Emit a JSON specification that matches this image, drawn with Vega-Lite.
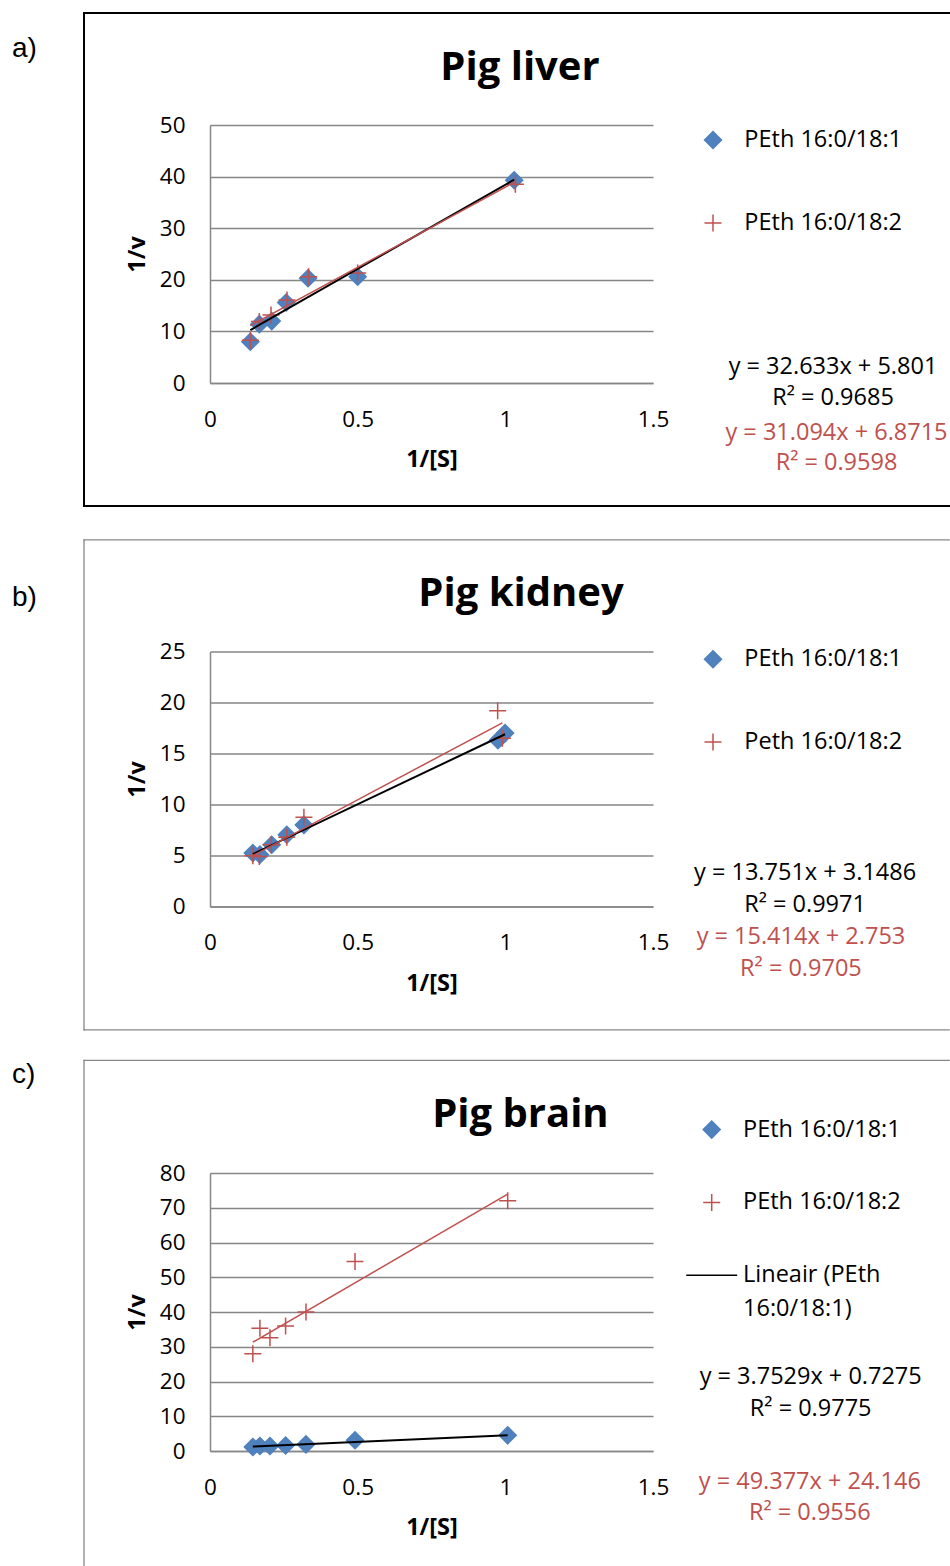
{
  "$schema": "https://vega.github.io/schema/vega-lite/v6.json",
  "padding": {"left": 12, "top": 11, "right": 0, "bottom": 0},
  "background": "white",
  "columns": 1,
  "align": "none",
  "spacing": 30.5,
  "resolve": {
    "scale": {"color": "independent", "stroke": "independent", "shape": "independent"},
    "legend": {"color": "independent", "stroke": "independent", "shape": "independent"}
  },
  "config": {
    "view": {"stroke": null},
    "font": "Open Sans",
    "style": {"guide-label": {"lineHeight": 33.7}},
    "axis": {
      "labelFont": "Open Sans", "labelFontSize": 22.5, "labelColor": "#000000",
      "titleFont": "Open Sans", "titleFontSize": 23.5, "titleFontWeight": "bold", "titleColor": "#000000",
      "ticks": false, "tickSize": 0, "labelPadding": 25,
      "domainColor": "#868686", "domainWidth": 1.5,
      "gridColor": "#868686", "gridWidth": 1.5,
      "labelFlush": false, "labelOverlap": false
    },
    "axisX": {"grid": false, "titlePadding": 17},
    "axisY": {"grid": true, "titlePadding": 10},
    "legend": {
      "labelFont": "Open Sans", "labelFontSize": 23.5, "labelColor": "#000000",
      "symbolSize": 289, "symbolStrokeWidth": 1.5, "labelOffset": 19.6, "labelLimit": 400,
      "padding": 0
    }
  },
  "concat": [
    {
      "width": 443, "height": 258,
      "encoding": {
        "x": {"field": "x", "type": "quantitative", "scale": {"domain": [0, 1.5], "nice": false, "zero": false},
              "axis": {"title": "1/[S]", "values": [0, 0.5, 1, 1.5], "format": "~g"}},
        "y": {"field": "y", "type": "quantitative", "scale": {"domain": [0, 50], "nice": false, "zero": false},
              "axis": {"title": "1/v", "values": [0, 10, 20, 30, 40, 50], "format": "d"}}
      },
      "layer": [
        {
          "data": {"values": [
            {"x": -0.4266, "x2": 2.5024, "y": 71.71, "y2": 71.71},
            {"x": -0.4266, "x2": -0.4266, "y": 71.71, "y2": -23.84},
            {"x": -0.4266, "x2": 2.5024, "y": -23.84, "y2": -23.84}
          ]},
          "mark": {"type": "rule", "color": "#000000", "strokeWidth": 2, "strokeCap": "square"},
          "encoding": {"x2": {"field": "x2"}, "y2": {"field": "y2"}}
        },
        {
          "data": {"values": [
            {"x": 0.1366, "y": 8.0, "series": "PEth 16:0/18:1"},
            {"x": 0.167, "y": 11.4, "series": "PEth 16:0/18:1"},
            {"x": 0.209, "y": 12.0, "series": "PEth 16:0/18:1"},
            {"x": 0.258, "y": 15.6, "series": "PEth 16:0/18:1"},
            {"x": 0.332, "y": 20.3, "series": "PEth 16:0/18:1"},
            {"x": 0.5, "y": 20.6, "series": "PEth 16:0/18:1"},
            {"x": 1.03, "y": 39.3, "series": "PEth 16:0/18:1"},
            {"x": 0.1366, "y": 8.3, "series": "PEth 16:0/18:2"},
            {"x": 0.167, "y": 11.9, "series": "PEth 16:0/18:2"},
            {"x": 0.2065, "y": 13.2, "series": "PEth 16:0/18:2"},
            {"x": 0.2607, "y": 16.1, "series": "PEth 16:0/18:2"},
            {"x": 0.334, "y": 20.6, "series": "PEth 16:0/18:2"},
            {"x": 0.5, "y": 21.3, "series": "PEth 16:0/18:2"},
            {"x": 1.034, "y": 38.5, "series": "PEth 16:0/18:2"}
          ]},
          "mark": {"type": "point", "filled": true, "opacity": 1, "strokeWidth": 1.5, "size": 289},
          "encoding": {
            "color": {"field": "series", "type": "nominal",
                      "scale": {"domain": ["PEth 16:0/18:1", "PEth 16:0/18:2"], "range": ["#4F81BD", "#C0504D"]},
                      "legend": {"title": null, "orient": "none", "legendX": 491.25, "legendY": 3.25, "rowPadding": 58.1}},
            "stroke": {"field": "series", "type": "nominal",
                      "scale": {"domain": ["PEth 16:0/18:1", "PEth 16:0/18:2"], "range": ["#4F81BD", "#C0504D"]},
                      "legend": {"title": null, "orient": "none", "legendX": 491.25, "legendY": 3.25, "rowPadding": 58.1}},
            "shape": {"field": "series", "type": "nominal",
                      "scale": {"domain": ["PEth 16:0/18:1", "PEth 16:0/18:2"], "range": ["diamond", "M-1,0L1,0M0,-1L0,1"]},
                      "legend": {"title": null, "orient": "none", "legendX": 491.25, "legendY": 3.25, "rowPadding": 58.1}}
          }
        },
        {
          "data": {"values": [{"x": 0.1366, "y": 10.26}, {"x": 1.03, "y": 39.41}]},
          "mark": {"type": "line", "color": "#000000", "strokeWidth": 2},
          "encoding": {}
        },
        {
          "data": {"values": [{"x": 0.1366, "y": 11.12}, {"x": 1.034, "y": 39.02}]},
          "mark": {"type": "line", "color": "#C0504D", "strokeWidth": 1.5},
          "encoding": {}
        },
        {
          "data": {"values": [
            {"x": 2.1095, "y": 3.16, "t": "y = 32.633x + 5.801"},
            {"x": 2.1095, "y": -2.97, "t": "R² = 0.9685"}
          ]},
          "mark": {"type": "text", "font": "Open Sans", "fontSize": 23.5, "align": "center", "baseline": "middle", "color": "#000000"},
          "encoding": {"text": {"field": "t"}}
        },
        {
          "data": {"values": [
            {"x": 2.1214, "y": -9.75, "t": "y = 31.094x + 6.8715"},
            {"x": 2.1214, "y": -15.56, "t": "R² = 0.9598"}
          ]},
          "mark": {"type": "text", "font": "Open Sans", "fontSize": 23.5, "align": "center", "baseline": "middle", "color": "#C0504D"},
          "encoding": {"text": {"field": "t"}}
        },
        {
          "data": {"values": [{"x": 1.0497, "y": 58.72, "t": "Pig liver"}]},
          "mark": {"type": "text", "font": "Open Sans", "fontSize": 40, "fontWeight": "bold", "align": "center", "baseline": "alphabetic", "color": "#000000"},
          "encoding": {"text": {"field": "t"}}
        },
        {
          "data": {"values": [{"x": -0.6704, "y": 64.81, "t": "a)"}]},
          "mark": {"type": "text", "font": "Liberation Sans", "fontSize": 28, "align": "left", "baseline": "middle", "color": "#000000"},
          "encoding": {"text": {"field": "t"}}
        }
      ]
    },
    {
      "columns": 1,
      "align": "none",
      "spacing": 27.5,
      "resolve": {
        "scale": {"color": "independent", "stroke": "independent", "shape": "independent"},
        "legend": {"color": "independent", "stroke": "independent", "shape": "independent"}
      },
      "concat": [
        {
          "width": 443, "height": 255,
          "encoding": {
            "x": {"field": "x", "type": "quantitative", "scale": {"domain": [0, 1.5], "nice": false, "zero": false},
                  "axis": {"title": "1/[S]", "values": [0, 0.5, 1, 1.5], "format": "~g"}},
            "y": {"field": "y", "type": "quantitative", "scale": {"domain": [0, 25], "nice": false, "zero": false},
                  "axis": {"title": "1/v", "values": [0, 5, 10, 15, 20, 25], "format": "d"}}
          },
          "layer": [
            {
              "data": {"values": [
                {"x": -0.4266, "x2": 2.5024, "y": 35.95, "y2": 35.95},
                {"x": -0.4266, "x2": -0.4266, "y": 35.95, "y2": -12.09},
                {"x": -0.4266, "x2": 2.5024, "y": -12.09, "y2": -12.09}
              ]},
              "mark": {"type": "rule", "color": "#878787", "strokeWidth": 1.3, "strokeCap": "square"},
              "encoding": {"x2": {"field": "x2"}, "y2": {"field": "y2"}}
            },
            {
              "data": {"values": [
                {"x": 0.145, "y": 5.24, "series": "PEth 16:0/18:1"},
                {"x": 0.169, "y": 5.08, "series": "PEth 16:0/18:1"},
                {"x": 0.209, "y": 6.05, "series": "PEth 16:0/18:1"},
                {"x": 0.26, "y": 7.03, "series": "PEth 16:0/18:1"},
                {"x": 0.318, "y": 8.0, "series": "PEth 16:0/18:1"},
                {"x": 0.975, "y": 16.3, "series": "PEth 16:0/18:1"},
                {"x": 0.999, "y": 17.0, "series": "PEth 16:0/18:1"},
                {"x": 0.145, "y": 4.98, "series": "Peth 16:0/18:2"},
                {"x": 0.167, "y": 4.9, "series": "Peth 16:0/18:2"},
                {"x": 0.207, "y": 6.05, "series": "Peth 16:0/18:2"},
                {"x": 0.26, "y": 6.8, "series": "Peth 16:0/18:2"},
                {"x": 0.318, "y": 8.76, "series": "Peth 16:0/18:2"},
                {"x": 0.974, "y": 19.2, "series": "Peth 16:0/18:2"},
                {"x": 0.99, "y": 16.5, "series": "Peth 16:0/18:2"}
              ]},
              "mark": {"type": "point", "filled": true, "opacity": 1, "strokeWidth": 1.5, "size": 289},
              "encoding": {
                "color": {"field": "series", "type": "nominal",
                          "scale": {"domain": ["PEth 16:0/18:1", "Peth 16:0/18:2"], "range": ["#4F81BD", "#C0504D"]},
                          "legend": {"title": null, "orient": "none", "legendX": 491.25, "legendY": -3.95, "rowPadding": 57.8}},
                "stroke": {"field": "series", "type": "nominal",
                          "scale": {"domain": ["PEth 16:0/18:1", "Peth 16:0/18:2"], "range": ["#4F81BD", "#C0504D"]},
                          "legend": {"title": null, "orient": "none", "legendX": 491.25, "legendY": -3.95, "rowPadding": 57.8}},
                "shape": {"field": "series", "type": "nominal",
                          "scale": {"domain": ["PEth 16:0/18:1", "Peth 16:0/18:2"], "range": ["diamond", "M-1,0L1,0M0,-1L0,1"]},
                          "legend": {"title": null, "orient": "none", "legendX": 491.25, "legendY": -3.95, "rowPadding": 57.8}}
              }
            },
            {
              "data": {"values": [{"x": 0.145, "y": 5.14}, {"x": 0.999, "y": 16.89}]},
              "mark": {"type": "line", "color": "#000000", "strokeWidth": 2},
              "encoding": {}
            },
            {
              "data": {"values": [{"x": 0.145, "y": 4.99}, {"x": 0.99, "y": 18.01}]},
              "mark": {"type": "line", "color": "#C0504D", "strokeWidth": 1.5},
              "encoding": {}
            },
            {
              "data": {"values": [
                {"x": 2.015, "y": 3.25, "t": "y = 13.751x + 3.1486"},
                {"x": 2.015, "y": 0.11, "t": "R² = 0.9971"}
              ]},
              "mark": {"type": "text", "font": "Open Sans", "fontSize": 23.5, "align": "center", "baseline": "middle", "color": "#000000"},
              "encoding": {"text": {"field": "t"}}
            },
            {
              "data": {"values": [
                {"x": 2.001, "y": -3.02, "t": "y = 15.414x + 2.753"},
                {"x": 2.001, "y": -6.16, "t": "R² = 0.9705"}
              ]},
              "mark": {"type": "text", "font": "Open Sans", "fontSize": 23.5, "align": "center", "baseline": "middle", "color": "#C0504D"},
              "encoding": {"text": {"field": "t"}}
            },
            {
              "data": {"values": [{"x": 1.053, "y": 29.48, "t": "Pig kidney"}]},
              "mark": {"type": "text", "font": "Open Sans", "fontSize": 40, "fontWeight": "bold", "align": "center", "baseline": "alphabetic", "color": "#000000"},
              "encoding": {"text": {"field": "t"}}
            },
            {
              "data": {"values": [{"x": -0.6704, "y": 30.21, "t": "b)"}]},
              "mark": {"type": "text", "font": "Liberation Sans", "fontSize": 28, "align": "left", "baseline": "middle", "color": "#000000"},
              "encoding": {"text": {"field": "t"}}
            }
          ]
        },
        {
          "width": 443, "height": 278,
          "encoding": {
            "x": {"field": "x", "type": "quantitative", "scale": {"domain": [0, 1.5], "nice": false, "zero": false},
                  "axis": {"title": "1/[S]", "values": [0, 0.5, 1, 1.5], "format": "~g"}},
            "y": {"field": "y", "type": "quantitative", "scale": {"domain": [0, 80], "nice": false, "zero": false},
                  "axis": {"title": "1/v", "values": [0, 10, 20, 30, 40, 50, 60, 70, 80], "format": "d"}}
          },
          "layer": [
            {
              "data": {"values": [
                {"x": -0.4266, "x2": 2.5024, "y": 112.43, "y2": 112.43},
                {"x": -0.4266, "x2": -0.4266, "y": 112.43, "y2": -32.89}
              ]},
              "mark": {"type": "rule", "color": "#878787", "strokeWidth": 1.3, "strokeCap": "square"},
              "encoding": {"x2": {"field": "x2"}, "y2": {"field": "y2"}}
            },
            {
              "data": {"values": [
                {"x": 0.145, "y": 1.15, "series": "PEth 16:0/18:1"},
                {"x": 0.169, "y": 1.44, "series": "PEth 16:0/18:1"},
                {"x": 0.203, "y": 1.44, "series": "PEth 16:0/18:1"},
                {"x": 0.256, "y": 1.6, "series": "PEth 16:0/18:1"},
                {"x": 0.325, "y": 1.9, "series": "PEth 16:0/18:1"},
                {"x": 0.491, "y": 3.1, "series": "PEth 16:0/18:1"},
                {"x": 1.008, "y": 4.5, "series": "PEth 16:0/18:1"},
                {"x": 0.145, "y": 28.0, "series": "PEth 16:0/18:2"},
                {"x": 0.169, "y": 35.3, "series": "PEth 16:0/18:2"},
                {"x": 0.203, "y": 32.6, "series": "PEth 16:0/18:2"},
                {"x": 0.256, "y": 36.0, "series": "PEth 16:0/18:2"},
                {"x": 0.325, "y": 40.0, "series": "PEth 16:0/18:2"},
                {"x": 0.491, "y": 54.5, "series": "PEth 16:0/18:2"},
                {"x": 1.008, "y": 72.0, "series": "PEth 16:0/18:2"}
              ]},
              "mark": {"type": "point", "filled": true, "opacity": 1, "strokeWidth": 1.5, "size": 289},
              "encoding": {
                "color": {"field": "series", "type": "nominal",
                          "scale": {"domain": ["PEth 16:0/18:1", "PEth 16:0/18:2", "Lineair (PEth 16:0/18:1)"], "range": ["#4F81BD", "#C0504D", "#000000"]},
                          "legend": {"title": null, "orient": "none", "legendX": 489.95, "legendY": -55.15, "rowPadding": 47.8,
                                     "labelExpr": "datum.label == 'Lineair (PEth 16:0/18:1)' ? ['Lineair (PEth', '16:0/18:1)'] : datum.label"}},
                "stroke": {"field": "series", "type": "nominal",
                          "scale": {"domain": ["PEth 16:0/18:1", "PEth 16:0/18:2", "Lineair (PEth 16:0/18:1)"], "range": ["#4F81BD", "#C0504D", "#000000"]},
                          "legend": {"title": null, "orient": "none", "legendX": 489.95, "legendY": -55.15, "rowPadding": 47.8,
                                     "labelExpr": "datum.label == 'Lineair (PEth 16:0/18:1)' ? ['Lineair (PEth', '16:0/18:1)'] : datum.label"}},
                "shape": {"field": "series", "type": "nominal",
                          "scale": {"domain": ["PEth 16:0/18:1", "PEth 16:0/18:2", "Lineair (PEth 16:0/18:1)"], "range": ["diamond", "M-1,0L1,0M0,-1L0,1", "M-3,0L3,0"]},
                          "legend": {"title": null, "orient": "none", "legendX": 489.95, "legendY": -55.15, "rowPadding": 47.8,
                                     "labelExpr": "datum.label == 'Lineair (PEth 16:0/18:1)' ? ['Lineair (PEth', '16:0/18:1)'] : datum.label"}}
              }
            },
            {
              "data": {"values": [{"x": 0.145, "y": 1.27}, {"x": 1.008, "y": 4.51}]},
              "mark": {"type": "line", "color": "#000000", "strokeWidth": 2},
              "encoding": {}
            },
            {
              "data": {"values": [{"x": 0.145, "y": 31.31}, {"x": 1.008, "y": 73.92}]},
              "mark": {"type": "line", "color": "#C0504D", "strokeWidth": 1.5},
              "encoding": {}
            },
            {
              "data": {"values": [
                {"x": 2.034, "y": 21.35, "t": "y = 3.7529x + 0.7275"},
                {"x": 2.034, "y": 12.23, "t": "R² = 0.9775"}
              ]},
              "mark": {"type": "text", "font": "Open Sans", "fontSize": 23.5, "align": "center", "baseline": "middle", "color": "#000000"},
              "encoding": {"text": {"field": "t"}}
            },
            {
              "data": {"values": [
                {"x": 2.031, "y": -9.06, "t": "y = 49.377x + 24.146"},
                {"x": 2.031, "y": -17.98, "t": "R² = 0.9556"}
              ]},
              "mark": {"type": "text", "font": "Open Sans", "fontSize": 23.5, "align": "center", "baseline": "middle", "color": "#C0504D"},
              "encoding": {"text": {"field": "t"}}
            },
            {
              "data": {"values": [{"x": 1.051, "y": 93.15, "t": "Pig brain"}]},
              "mark": {"type": "text", "font": "Open Sans", "fontSize": 40, "fontWeight": "bold", "align": "center", "baseline": "alphabetic", "color": "#000000"},
              "encoding": {"text": {"field": "t"}}
            },
            {
              "data": {"values": [{"x": -0.6704, "y": 108.23, "t": "c)"}]},
              "mark": {"type": "text", "font": "Liberation Sans", "fontSize": 28, "align": "left", "baseline": "middle", "color": "#000000"},
              "encoding": {"text": {"field": "t"}}
            }
          ]
        }
      ]
    }
  ]
}
